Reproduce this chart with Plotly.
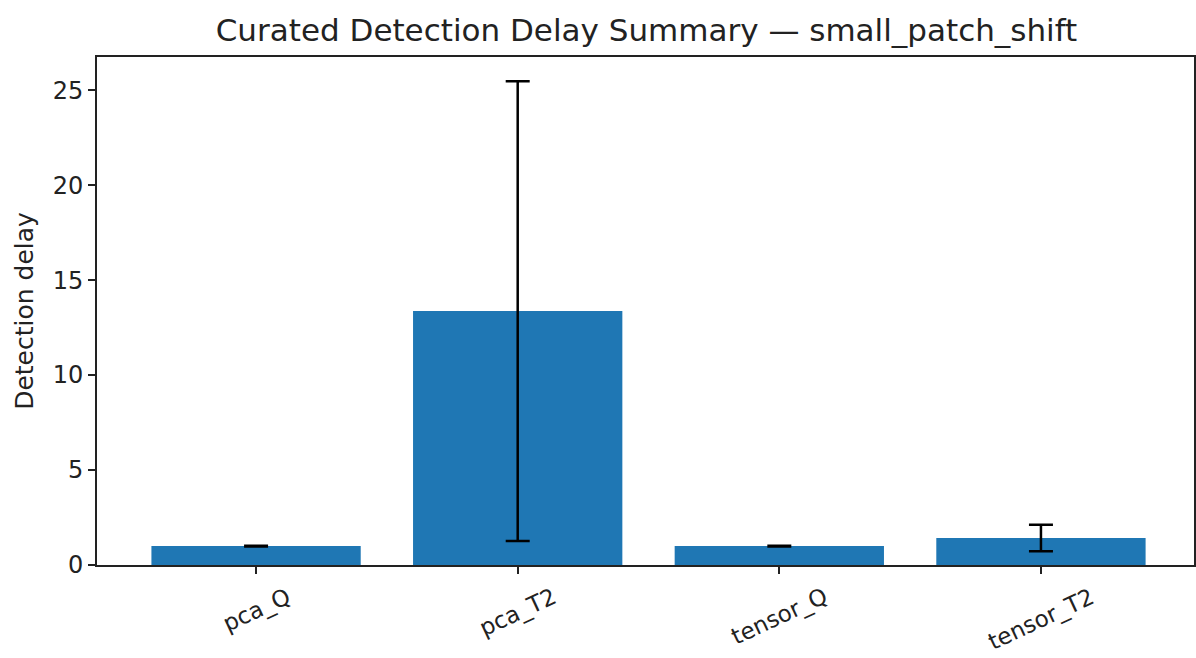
import plotly.graph_objects as go

methods = ["pca_Q", "pca_T2", "tensor_Q", "tensor_T2"]
mean_delay = [1.0, 13.37, 1.0, 1.42]
std_delay = [0.02, 12.1, 0.02, 0.7]

title_text = "Curated Detection Delay Summary — small_patch_shift"
y_label = "Detection delay"
y_ticks = [0, 5, 10, 15, 20, 25]

FONT = "DejaVu Sans"

fig = go.Figure()
fig.add_trace(go.Bar(
    x=methods, y=mean_delay, width=0.8,
    marker=dict(color="#1f77b4", line=dict(width=0)),
    error_y=dict(type="data", array=std_delay, visible=True,
                 color="black", thickness=2.5, width=12),
))

for m in methods:
    fig.add_annotation(x=m, xref="x", y=-0.03, yref="paper",
                       text=m, showarrow=False, textangle=-25,
                       xanchor="center", yanchor="top",
                       font=dict(family=FONT, size=23, color="#222"))

fig.update_layout(
    width=1196, height=658,
    margin=dict(l=97, r=0, t=57, b=93),
    paper_bgcolor="white", plot_bgcolor="white",
    showlegend=False,
    title=dict(text=title_text, x=(97 + 1196) / 2 / 1196, xanchor="center",
               y=1 - 30 / 658, yanchor="middle",
               font=dict(family=FONT, size=31, color="#222")),
    font=dict(family=FONT, size=24, color="#222"),
)
fig.update_xaxes(
    type="category", range=[-0.608, 3.585],
    showticklabels=False,
    ticks="outside", ticklen=7, tickwidth=1.5, tickcolor="#222",
    showline=True, linecolor="#222", linewidth=1.6, mirror=True,
    showgrid=False, zeroline=False,
)
fig.update_yaxes(
    range=[0, 26.75], tickvals=y_ticks,
    ticks="outside", ticklen=7, tickwidth=1.5, tickcolor="#222",
    tickfont=dict(family=FONT, size=24, color="#222"),
    showline=True, linecolor="#222", linewidth=1.6, mirror=True,
    showgrid=False, zeroline=False,
    title=dict(text=y_label, standoff=12, font=dict(family=FONT, size=25, color="#222")),
)

fig.write_html("out.html")
